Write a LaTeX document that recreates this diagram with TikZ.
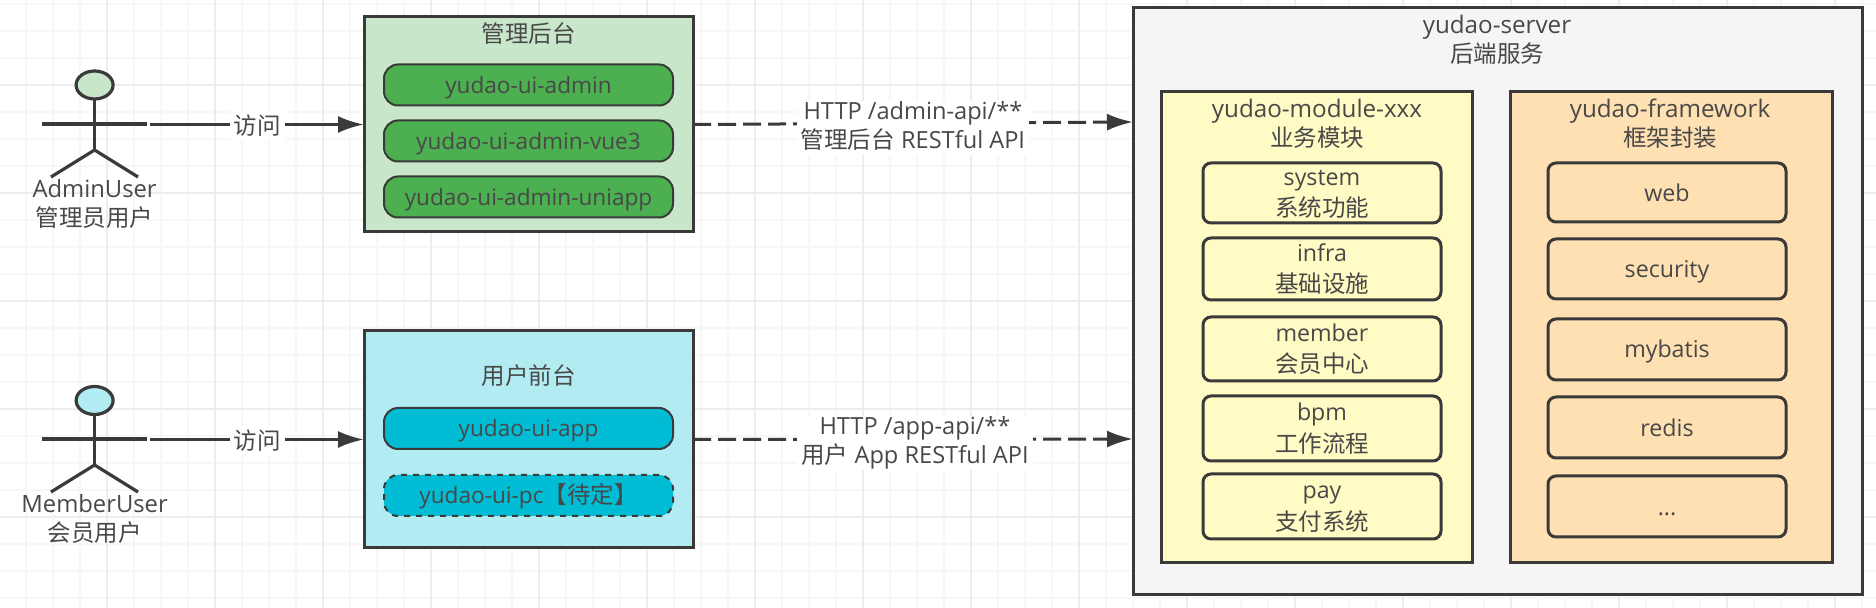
\documentclass[tikz,border=0pt]{standalone}
\usepackage{fontspec}
\setmainfont{Open Sans}
\newfontfamily\cjk{Noto Sans CJK SC}
\newcommand{\zh}[1]{{\fontsize{11.75}{14.5}\selectfont\cjk #1}}
\usetikzlibrary{arrows.meta,shapes.geometric}
\definecolor{inkgray}{HTML}{3A3A3A}
\definecolor{textgray}{HTML}{484848}
\definecolor{adminpale}{HTML}{C8E6C9}
\definecolor{admingreen}{HTML}{4CAF50}
\definecolor{memberpale}{HTML}{B2EBF2}
\definecolor{membercyan}{HTML}{00BCD4}
\definecolor{serverfill}{HTML}{F5F5F5}
\definecolor{modulefill}{HTML}{FFFBC4}
\definecolor{frameworkfill}{HTML}{FFE0B2}
\tikzset{
    every node/.style={font=\fontsize{11.6}{14.5}\selectfont, text=textgray, align=center, inner sep=0pt, outer sep=0pt, execute at begin node={\rule[-0.215em]{0pt}{1.165em}}},
    panel/.style={draw=inkgray, line width=1.5pt},
    heading/.style={font=\fontsize{12.1}{14.5}\selectfont},
    username/.style={font=\fontsize{11.9}{14.5}\selectfont},
    pill/.style={draw=inkgray, line width=1pt, rounded corners=7pt, minimum width=144.5pt, minimum height=20.5pt, font=\fontsize{11.3}{14.5}\selectfont},
    itembox/.style={draw=inkgray, line width=1.5pt, rounded corners=4pt, minimum width=119pt},
    twoline/.style={itembox, font=\fontsize{11.6}{15.6}\selectfont, execute at begin node={\rule{0pt}{26pt}}},
    limb/.style={draw=inkgray, line width=1.6pt},
    head/.style={ellipse, draw=inkgray, line width=1.6pt, minimum width=18.5pt, minimum height=14pt, font=\fontsize{1}{1}\selectfont},
    visit/.style={draw=inkgray, line width=1.6pt, -{Latex[length=13pt,width=8.5pt]}},
    call/.style={draw=inkgray, line width=1.5pt, dash pattern=on 9pt off 3.5pt, -{Latex[length=13pt,width=8.5pt]}},
    tag/.style={fill=white, inner xsep=2pt, inner ysep=0.5pt, font=\fontsize{11.8}{14.5}\selectfont}
}
\begin{document}
\begin{tikzpicture}[x=0.5pt, y=-0.5pt]
    \useasboundingbox (0, 0) rectangle (1876, 608);

    % background grid
    \foreach \k in {0, ..., 69} {
        \draw[black!3, line width=1pt] ({-1 + 27*\k}, 0)--({-1 + 27*\k}, 608);
    }
    \foreach \k in {0, ..., 22} {
        \draw[black!3, line width=1pt] (0, {4 + 27*\k})--(1876, {4 + 27*\k});
    }
    \foreach \k in {0, ..., 17} {
        \draw[black!7, line width=1pt] ({-1 + 108*\k}, 0)--({-1 + 108*\k}, 608);
    }
    \foreach \k in {0, ..., 5} {
        \draw[black!7, line width=1pt] (0, {-23 + 108*\k})--(1876, {-23 + 108*\k});
    }

    % admin user
    \coordinate (adminHip) at (94.6, 150);
    \coordinate (adminArmL) at (42, 124);
    \coordinate (adminArmR) at (147, 124);
    \coordinate (adminFootL) at (51, 177);
    \coordinate (adminFootR) at (138, 177);
    \coordinate (adminHand) at (150, 124.5);
    \node[head, fill=adminpale] (adminHead) at (94.6, 85) {};
    \draw[limb] (adminHead)--(adminHip);
    \draw[limb] (adminArmL)--(adminArmR);
    \draw[limb] (adminFootL)--(adminHip)--(adminFootR);
    \node[username] (adminName) at (94.6, 205.5) {AdminUser\\\zh{管理员用户}};

    % member user
    \coordinate (memberHip) at (94.6, 465);
    \coordinate (memberArmL) at (42, 439);
    \coordinate (memberArmR) at (147, 439);
    \coordinate (memberFootL) at (51, 492);
    \coordinate (memberFootR) at (138, 492);
    \coordinate (memberHand) at (150, 439.5);
    \node[head, fill=memberpale] (memberHead) at (94.6, 400.5) {};
    \draw[limb] (memberHead)--(memberHip);
    \draw[limb] (memberArmL)--(memberArmR);
    \draw[limb] (memberFootL)--(memberHip)--(memberFootR);
    \node[username] (memberName) at (94.6, 521) {MemberUser\\\zh{会员用户}};

    % admin front end
    \node[panel, fill=adminpale, minimum width=164.5pt, minimum height=107.5pt] (adminPanel) at (528.5, 124.5) {};
    \node (adminTitle) at (528.5, 33.5) {\zh{管理后台}};
    \node[pill, fill=admingreen] (adminUi) at (528.5, 85) {yudao-ui-admin};
    \node[pill, fill=admingreen] (adminVue) at (528.5, 141) {yudao-ui-admin-vue3};
    \node[pill, fill=admingreen] (adminUni) at (528.5, 197) {yudao-ui-admin-uniapp};

    % member front end
    \node[panel, fill=memberpale, minimum width=164.5pt, minimum height=108.5pt] (memberPanel) at (528.5, 439.5) {};
    \node (memberTitle) at (528.5, 376) {\zh{用户前台}};
    \node[pill, fill=membercyan] (memberApp) at (528.5, 428.5) {yudao-ui-app};
    \node[pill, fill=membercyan, dashed] (memberPc) at (528.5, 495.5) {yudao-ui-pc\zh{【待定】}};

    % server
    \node[panel, fill=serverfill, minimum width=364.75pt, minimum height=293.5pt] (serverPanel) at (1497.75, 301.5) {};
    \node[heading] (serverTitle) at (1497, 41.5) {yudao-server\\\zh{后端服务}};
    \coordinate (adminEntry) at (1133, 122);
    \coordinate (memberEntry) at (1133, 439);

    % module column
    \node[panel, fill=modulefill, minimum width=155.5pt, minimum height=235.5pt] (modulePanel) at (1316.5, 327.5) {};
    \node[heading] (moduleTitle) at (1317, 125) {yudao-module-xxx\\\zh{业务模块}};
    \node[twoline, minimum height=30pt] (systemBox) at (1322, 193) {system\\\zh{系统功能}};
    \node[twoline, minimum height=31pt] (infraBox) at (1322, 269) {infra\\\zh{基础设施}};
    \node[twoline, minimum height=32pt] (memberBox) at (1322, 349) {member\\\zh{会员中心}};
    \node[twoline, minimum height=32.5pt] (bpmBox) at (1322, 428.5) {bpm\\\zh{工作流程}};
    \node[twoline, minimum height=32.5pt] (payBox) at (1322, 506.5) {pay\\\zh{支付系统}};

    % framework column
    \node[panel, fill=frameworkfill, minimum width=161pt, minimum height=235.5pt] (frameworkPanel) at (1671, 327.5) {};
    \node[heading] (frameworkTitle) at (1670, 125) {yudao-framework\\\zh{框架封装}};
    \node[itembox, minimum height=29.5pt] (webBox) at (1667, 192.5) {web};
    \node[itembox, minimum height=30pt] (securityBox) at (1667, 269) {security};
    \node[itembox, minimum height=30.5pt] (mybatisBox) at (1667, 349.5) {mybatis};
    \node[itembox, minimum height=30.5pt] (redisBox) at (1667, 427.5) {redis};
    \node[itembox, minimum height=30.5pt] (moreBox) at (1667, 506.5) {...};

    % connectors
    \draw[visit] (adminHand)--(adminPanel.west);
    \draw[visit] (memberHand)--(memberPanel.west);
    \draw[call] (adminPanel.east)--(adminEntry);
    \draw[call] (memberPanel.east)--(memberEntry);
    \node[tag] (adminVisit) at (257, 125.5) {\zh{访问}};
    \node[tag] (memberVisit) at (257, 441) {\zh{访问}};
    \node[tag] (adminApi) at (913, 128) {HTTP /admin-api/**\\\zh{管理后台} RESTful API};
    \node[tag] (memberApi) at (915, 443) {HTTP /app-api/**\\\zh{用户} App RESTful API};
\end{tikzpicture}
\end{document}
